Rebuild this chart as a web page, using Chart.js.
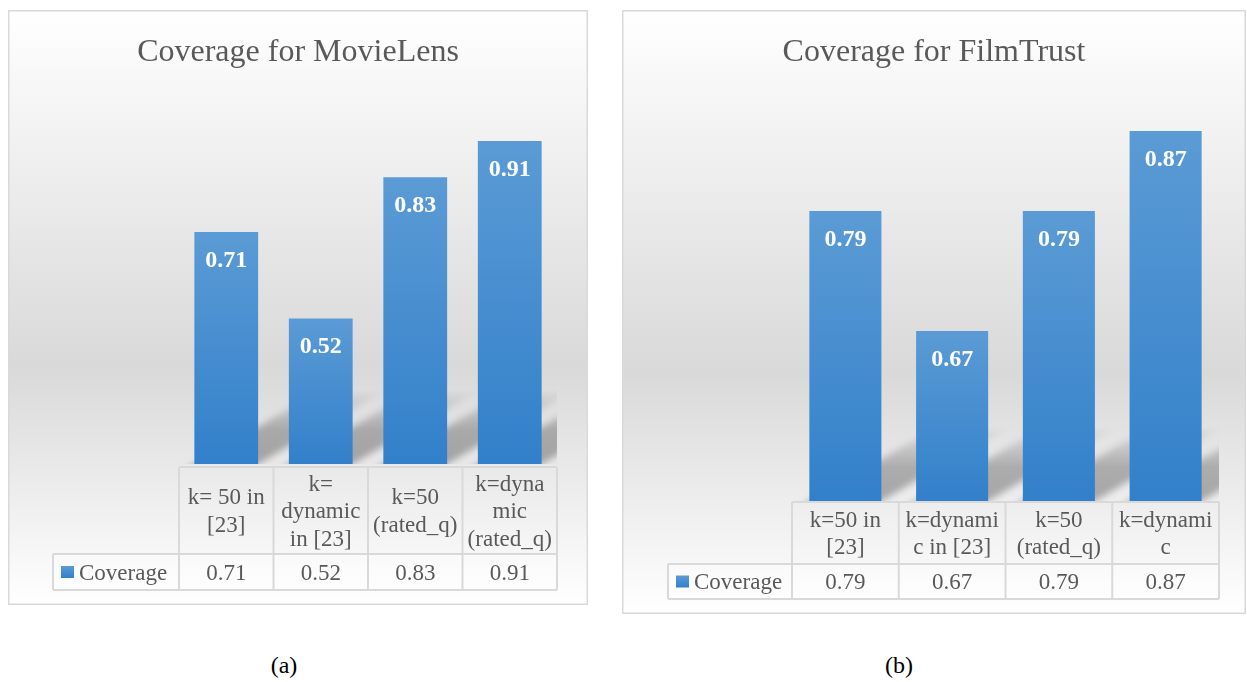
<!DOCTYPE html>
<html>
<head>
<meta charset="utf-8">
<script src="https://cdn.jsdelivr.net/npm/chart.js@4.4.1/dist/chart.umd.min.js"></script>
<style>
  html, body { margin: 0; padding: 0; background: #ffffff; width: 1247px; height: 682px; overflow: hidden; }
  canvas.panel { position: absolute; }
  .caption { position: absolute; top: 652px; width: 60px; text-align: center;
             font-family: "Liberation Serif", "Times New Roman", serif; font-size: 24px; color: #000; }
</style>
</head>
<body>
<canvas id="chartMovieLens" class="panel" width="580" height="595" style="left:8px; top:10px;"></canvas>
<canvas id="chartFilmTrust" class="panel" width="624" height="604" style="left:622px; top:10px;"></canvas>
<div class="caption" style="left:254px;">(a)</div>
<div class="caption" style="left:869px;">(b)</div>

<script>
// ---- data ----
const seriesName = "Coverage";

const movieLensTitle = "Coverage for MovieLens";
const movieLensCategories = [
  ["k= 50 in", "[23]"],
  ["k=", "dynamic", "in [23]"],
  ["k=50", "(rated_q)"],
  ["k=dyna", "mic", "(rated_q)"]
];
const movieLensCoverage = [0.71, 0.52, 0.83, 0.91];

const filmTrustTitle = "Coverage for FilmTrust";
const filmTrustCategories = [
  ["k=50 in", "[23]"],
  ["k=dynami", "c in [23]"],
  ["k=50", "(rated_q)"],
  ["k=dynami", "c"]
];
const filmTrustCoverage = [0.79, 0.67, 0.79, 0.87];

// ---- styling ----
const SERIF = '"Liberation Serif", "Times New Roman", serif';
const TEXT_GREY = "#595959";
const GRID_GREY = "#d9d9d9";
const BAR_TOP = "#5b9bd5";
const BAR_BOTTOM = "#3280ca";

Chart.defaults.animation = false;
Chart.defaults.devicePixelRatio = 1;

function barGradient(ctx, top, bottom) {
  const g = ctx.createLinearGradient(0, top, 0, bottom);
  g.addColorStop(0, BAR_TOP);
  g.addColorStop(1, BAR_BOTTOM);
  return g;
}

// panel background, frame and title
const panelBackground = {
  id: "panelBackground",
  beforeDraw(chart, args, opts) {
    const { ctx, width, height } = chart;
    ctx.save();
    const g = ctx.createLinearGradient(0, 0, 0, height);
    g.addColorStop(0, "#ffffff");
    g.addColorStop(0.6, "#d9d9d9");
    g.addColorStop(1, "#ffffff");
    ctx.fillStyle = g;
    ctx.fillRect(0, 0, width, height);
    ctx.strokeStyle = GRID_GREY;
    ctx.lineWidth = 1.5;
    ctx.strokeRect(0.75, 0.75, width - 1.5, height - 1.5);
    ctx.fillStyle = TEXT_GREY;
    ctx.font = "32px " + SERIF;
    ctx.textAlign = "center";
    ctx.textBaseline = "alphabetic";
    ctx.fillText(opts.text, width / 2, 51);
    ctx.restore();
  }
};

// slanted perspective shadow behind each bar, softened with a canvas shadow
const barShadow = {
  id: "barShadow",
  beforeDatasetsDraw(chart) {
    const { ctx, chartArea } = chart;
    const meta = chart.getDatasetMeta(0);
    const k = 1.7;
    const shift = 4000;
    ctx.save();
    ctx.beginPath();
    ctx.rect(chartArea.left, chartArea.top, chartArea.right - chartArea.left, chartArea.bottom - chartArea.top);
    ctx.clip();
    meta.data.forEach(bar => {
      const base = Math.min(bar.base, chartArea.bottom);
      const len = Math.min(75, base - bar.y);
      ctx.save();
      ctx.shadowColor = "rgba(0,0,0,0.30)";
      ctx.shadowBlur = 7;
      ctx.shadowOffsetX = shift;
      ctx.shadowOffsetY = 0;
      ctx.setTransform(1, 0, -k, 1, k * base - shift, 0);
      const g = ctx.createLinearGradient(0, base, 0, base - len);
      g.addColorStop(0, "rgba(0,0,0,1)");
      g.addColorStop(0.45, "rgba(0,0,0,0.85)");
      g.addColorStop(1, "rgba(0,0,0,0)");
      ctx.fillStyle = g;
      ctx.fillRect(bar.x - bar.width / 2, base - len, bar.width, len + 6);
      ctx.restore();
    });
    ctx.restore();
  }
};

// value labels inside the bars
const barValueLabels = {
  id: "barValueLabels",
  afterDatasetsDraw(chart) {
    const { ctx } = chart;
    const meta = chart.getDatasetMeta(0);
    const values = chart.data.datasets[0].data;
    ctx.save();
    ctx.fillStyle = "#ffffff";
    ctx.font = "bold 24px " + SERIF;
    ctx.textAlign = "center";
    ctx.textBaseline = "alphabetic";
    meta.data.forEach((bar, i) => {
      ctx.fillText(values[i].toFixed(2), bar.x, bar.y + 35);
    });
    ctx.restore();
  }
};

// data table under the plot: category row, then legend key + values row
const dataTable = {
  id: "dataTable",
  afterDraw(chart, args, opts) {
    const { ctx } = chart;
    const xs = chart.scales.x;
    const labels = chart.data.labels;
    const values = chart.data.datasets[0].data;
    const n = labels.length;
    const cw = (xs.right - xs.left) / n;
    const colLeft = i => xs.getPixelForValue(i) - cw / 2;
    const right = colLeft(n - 1) + cw;
    const { legendLeft, headTop, headBottom, rowBottom } = opts;

    ctx.save();
    ctx.fillStyle = "rgba(255,255,255,0.35)";
    ctx.fillRect(legendLeft, headBottom, right - legendLeft, rowBottom - headBottom);

    ctx.strokeStyle = GRID_GREY;
    ctx.lineWidth = 2;
    ctx.beginPath();
    ctx.moveTo(colLeft(0), headTop); ctx.lineTo(right, headTop);
    ctx.moveTo(legendLeft, headBottom); ctx.lineTo(right, headBottom);
    ctx.moveTo(legendLeft, rowBottom); ctx.lineTo(right, rowBottom);
    ctx.moveTo(legendLeft, headBottom); ctx.lineTo(legendLeft, rowBottom);
    for (let i = 0; i <= n; i++) {
      const x = i < n ? colLeft(i) : right;
      ctx.moveTo(x, headTop); ctx.lineTo(x, rowBottom);
    }
    ctx.stroke();

    ctx.fillStyle = TEXT_GREY;
    ctx.font = "23px " + SERIF;
    ctx.textAlign = "center";
    ctx.textBaseline = "alphabetic";
    const lh = 27.5;
    const headMid = (headTop + headBottom) / 2;
    labels.forEach((lines, i) => {
      const cx = xs.getPixelForValue(i);
      const arr = Array.isArray(lines) ? lines : [lines];
      const first = headMid - (arr.length - 1) * lh / 2;
      arr.forEach((t, j) => ctx.fillText(t, cx, first + j * lh + 7.5));
    });

    const rowMid = (headBottom + rowBottom) / 2;
    values.forEach((v, i) => {
      ctx.fillText(v.toFixed(2), xs.getPixelForValue(i), rowMid + 7.5);
    });

    // legend key
    const kx = legendLeft + 8;
    ctx.fillStyle = barGradient(ctx, rowMid - 6, rowMid + 6);
    ctx.fillRect(kx, rowMid - 6, 13, 12);
    ctx.fillStyle = TEXT_GREY;
    ctx.textAlign = "left";
    ctx.fillText(chart.data.datasets[0].label, kx + 18, rowMid + 7.5);
    ctx.restore();
  }
};

function coverageChart(id, title, categories, values, yMin, yMax, padding, table) {
  return new Chart(document.getElementById(id), {
    type: "bar",
    data: {
      labels: categories,
      datasets: [{
        label: seriesName,
        data: values,
        backgroundColor: c => {
          const ch = c.chart;
          if (!ch.chartArea) return BAR_TOP;
          const top = ch.scales.y.getPixelForValue(c.raw);
          return barGradient(ch.ctx, top, ch.scales.y.bottom);
        },
        borderWidth: 0,
        barPercentage: 0.675,
        categoryPercentage: 1.0
      }]
    },
    options: {
      responsive: false,
      maintainAspectRatio: false,
      layout: { padding },
      scales: {
        x: { display: false, offset: true },
        y: { display: false, min: yMin, max: yMax }
      },
      plugins: {
        legend: { display: false },
        title: { display: false },
        tooltip: { enabled: false },
        panelBackground: { text: title },
        dataTable: table
      }
    },
    plugins: [panelBackground, barShadow, barValueLabels, dataTable]
  });
}

coverageChart("chartMovieLens", movieLensTitle, movieLensCategories, movieLensCoverage,
  0.2, 1.0,
  { left: 171, right: 31, top: 90, bottom: 141 },
  { legendLeft: 45, headTop: 457, headBottom: 544, rowBottom: 580 });

coverageChart("chartFilmTrust", filmTrustTitle, filmTrustCategories, filmTrustCoverage,
  0.5, 0.9,
  { left: 170, right: 27, top: 91, bottom: 113 },
  { legendLeft: 46, headTop: 492, headBottom: 554, rowBottom: 589 });
</script>
</body>
</html>
